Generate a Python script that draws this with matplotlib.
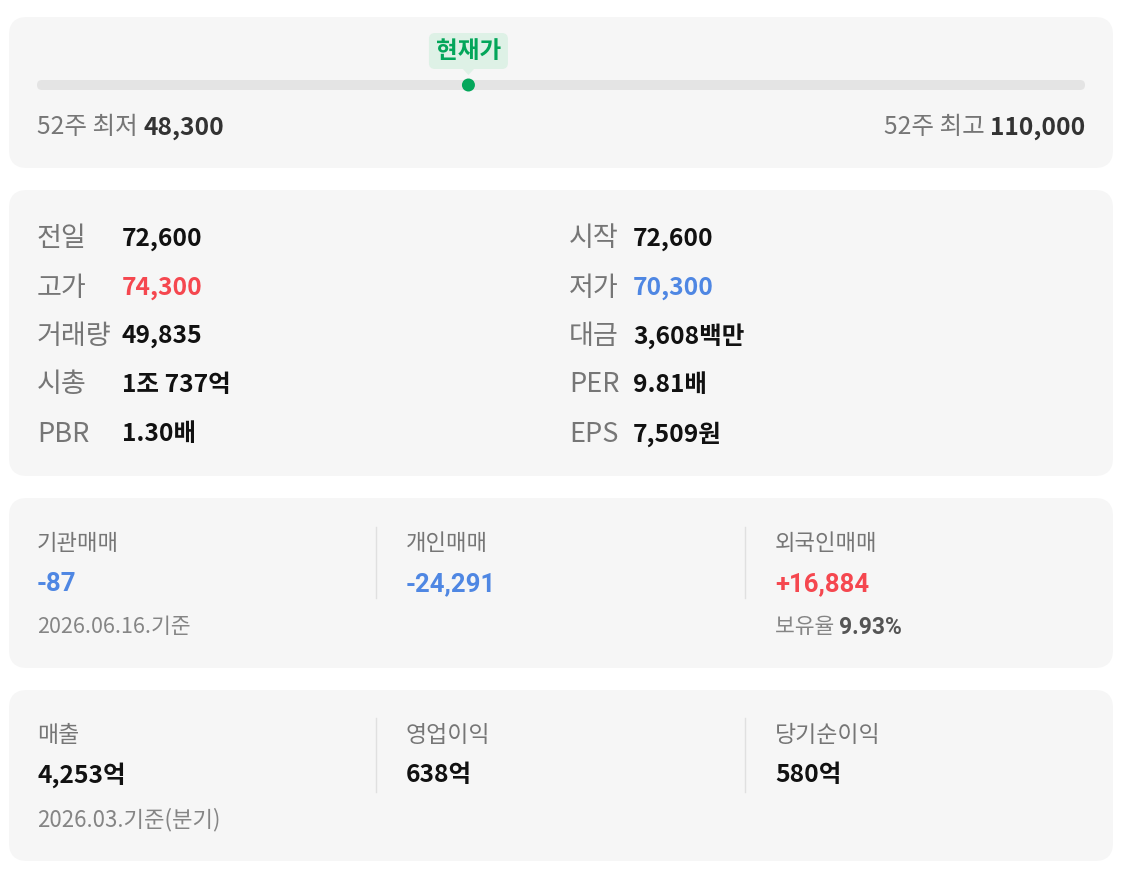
import matplotlib
matplotlib.use("Agg")
import matplotlib.pyplot as plt
from matplotlib.patches import FancyBboxPatch, Circle, Polygon

plt.rcParams['font.family'] = ['Noto Sans CJK KR', 'DejaVu Sans']

# ---------------- data ----------------
low_52w = 48300
high_52w = 110000
current_price = 73700

left_labels = ["전일", "고가", "거래량", "시총", "PBR"]
left_values = ["72,600", "74,300", "49,835", "1조 737억", "1.30배"]
left_kinds = ["plain", "up", "plain", "plain", "plain"]
right_labels = ["시작", "저가", "대금", "PER", "EPS"]
right_values = ["72,600", "70,300", "3,608백만", "9.81배", "7,509원"]
right_kinds = ["plain", "down", "plain", "plain", "plain"]

trade_labels = ["기관매매", "개인매매", "외국인매매"]
trade_values = ["-87", "-24,291", "+16,884"]
trade_kinds = ["down", "down", "up"]
trade_date = "2026.06.16.기준"
foreign_ratio = "9.93%"

fin_labels = ["매출", "영업이익", "당기순이익"]
fin_values = ["4,253억", "638억", "580억"]
fin_date = "2026.03.기준(분기)"

# ---------------- style ----------------
W, H = 1123, 874
CARD = "#f6f6f6"
GRAY = "#767676"
DARK = "#111111"
RED = "#f5474f"
BLUE = "#4f87e3"
GREEN = "#03a65a"
ROBOTO = ['Roboto', 'Noto Sans CJK KR', 'DejaVu Sans']
kind_color = {"plain": DARK, "up": RED, "down": BLUE}

fig = plt.figure(figsize=(W / 100, H / 100), dpi=100)
ax = fig.add_axes([0, 0, 1, 1])
ax.set_xlim(0, W)
ax.set_ylim(H, 0)
ax.axis("off")


def card(y0, y1):
    ax.add_patch(FancyBboxPatch((9, y0), 1104, y1 - y0,
                                boxstyle="round,pad=0,rounding_size=18",
                                fc=CARD, ec="none", zorder=1))


def chain(first, text, **kw):
    return ax.annotate(text, xy=(1, 0), xycoords=first, va="bottom", ha="left", **kw)


# card 1: 52-week range
card(17, 168)
tx0, tx1, ty = 37, 1085, 85
ax.add_patch(FancyBboxPatch((tx0, ty - 5), tx1 - tx0, 10,
                            boxstyle="round,pad=0,rounding_size=5",
                            fc="#e4e4e4", ec="none", zorder=2))
px = tx0 + (tx1 - tx0) * (current_price - low_52w) / (high_52w - low_52w)
ax.add_patch(Circle((px, ty), 6.5, fc=GREEN, ec="none", zorder=4))
ax.add_patch(FancyBboxPatch((px - 39.5, 33), 79, 36,
                            boxstyle="round,pad=0,rounding_size=6",
                            fc="#def1e6", ec="none", zorder=3))
ax.add_patch(Polygon([(px - 6, 68.5), (px + 6, 68.5), (px, 75)],
                     closed=True, fc="#def1e6", ec="none", zorder=3))
ax.text(px, 50.5, "현재가", color=GREEN, fontsize=17, fontweight="bold",
        ha="center", va="center", zorder=5)

FS1 = 17.7
t = ax.text(tx0, 140, "52주 최저 ", color=GRAY, fontsize=FS1, va="bottom", ha="left", zorder=5)
chain(t, f"{low_52w:,}", color="#333333", fontsize=FS1, fontweight="bold", zorder=5)
t = ax.text(tx1, 140, f"{high_52w:,}", color="#333333", fontsize=FS1,
            fontweight="bold", va="bottom", ha="right", zorder=5)
ax.annotate("52주 최고 ", xy=(0, 0), xycoords=t, va="bottom", ha="right",
            color=GRAY, fontsize=FS1, zorder=5)

# card 2: price details
card(190, 476)
row_y = [239, 288, 336, 385, 434]
FSL, FSV = 19.5, 17.7
for i, y in enumerate(row_y):
    ax.text(37, y, left_labels[i], color=GRAY, fontsize=FSL, va="center", ha="left", zorder=5)
    ax.text(122, y, left_values[i], color=kind_color[left_kinds[i]], fontsize=FSV,
            fontweight="bold", va="center", ha="left", zorder=5)
    ax.text(569, y, right_labels[i], color=GRAY, fontsize=FSL, va="center", ha="left", zorder=5)
    ax.text(633, y, right_values[i], color=kind_color[right_kinds[i]], fontsize=FSV,
            fontweight="bold", va="center", ha="left", zorder=5)

col_x = [37, 406, 775]
div_x = [376, 745]

# card 3: investor trading
card(498, 668)
for d in div_x:
    ax.plot([d, d], [527, 598], color="#e0e0e0", lw=1, zorder=5)
for i, x in enumerate(col_x):
    ax.text(x, 544, trade_labels[i], color=GRAY, fontsize=16, va="center", ha="left", zorder=5)
    ax.text(x, 584, trade_values[i], color=kind_color[trade_kinds[i]], fontsize=18.5,
            fontweight="bold", family=ROBOTO, va="center", ha="left", zorder=5)
ax.text(37, 627, trade_date, color="#858585", fontsize=15.5, va="center", ha="left", zorder=5)
t = ax.text(775, 627, "보유율 ", color="#858585", fontsize=15.5, va="center", ha="left", zorder=5)
ax.annotate(foreign_ratio, xy=(1, 0.5), xycoords=t, va="center", ha="left",
            color="#555555", fontsize=16.5, fontweight="bold", family=ROBOTO, zorder=5)

# card 4: financials
card(690, 861)
for d in div_x:
    ax.plot([d, d], [718, 792], color="#e0e0e0", lw=1, zorder=5)
for i, x in enumerate(col_x):
    ax.text(x, 736, fin_labels[i], color=GRAY, fontsize=16.5, va="center", ha="left", zorder=5)
    ax.text(x, 775, fin_values[i], color=DARK, fontsize=17.7,
            fontweight="bold", va="center", ha="left", zorder=5)
ax.text(37, 820, fin_date, color="#858585", fontsize=16, va="center", ha="left", zorder=5)

fig.savefig("out.png", dpi=100, facecolor="white")
